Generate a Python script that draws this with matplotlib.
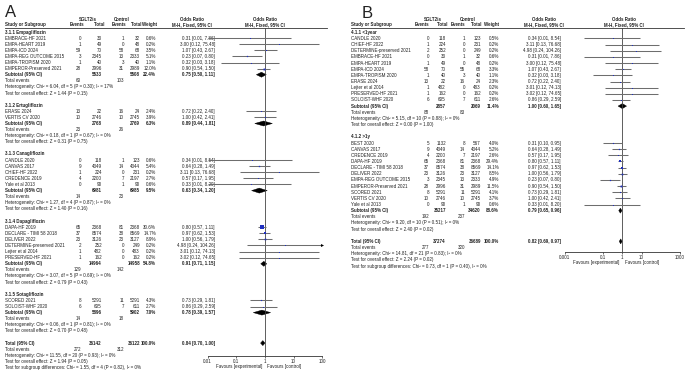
import matplotlib
matplotlib.use("Agg")
import matplotlib.pyplot as plt
from matplotlib.patches import Polygon
from matplotlib.ticker import NullLocator

plt.rcParams["font.family"] = ["Liberation Sans", "DejaVu Sans"]

W, H = 685, 374
FS = 3.25
TXT = "#222222"
SQ_BLUE = "#1f2fc0"
CI_GREY = "#6e6e6e"

# study rows: (name, events exp, total exp, events ctl, total ctl, weight %, OR, lo, hi)
A_EMPA = [
    ("EMBRACE-HF 2021", 0, 33, 1, 32, 0.6, 0.31, 0.01, 7.86),
    ("EMPA-HEART 2019", 1, 49, 0, 48, 0.2, 3.00, 0.12, 75.48),
    ("EMPA-ICD 2024", 59, 70, 58, 68, 3.5, 1.07, 0.43, 2.67),
    ("EMPA-REG OUTCOME 2015", 3, 2345, 13, 2333, 5.1, 0.23, 0.07, 0.80),
    ("EMPA-TROPISM 2020", 1, 40, 3, 40, 1.1, 0.32, 0.03, 3.18),
    ("EMPEROR-Preserved 2021", 28, 2996, 31, 2989, 12.0, 0.90, 0.54, 1.50),
]
A_ERTU = [
    ("ERASE 2024", 13, 22, 16, 24, 2.4, 0.72, 0.22, 2.40),
    ("VERTIS CV 2020", 10, 2746, 10, 2745, 3.9, 1.00, 0.42, 2.41),
]
A_CANA = [
    ("CANDLE 2020", 0, 118, 1, 123, 0.6, 0.34, 0.01, 8.54),
    ("CANVAS 2017", 9, 4349, 14, 4344, 5.4, 0.64, 0.28, 1.49),
    ("CHIEF-HF 2022", 1, 224, 0, 231, 0.2, 3.11, 0.13, 76.68),
    ("CREDENCE 2019", 4, 2200, 7, 2197, 2.7, 0.57, 0.17, 1.95),
    ("Yale et al 2013", 0, 90, 1, 90, 0.6, 0.33, 0.01, 8.20),
]
A_DAPA = [
    ("DAPA-HF 2019", 65, 2368, 81, 2368, 30.6, 0.80, 0.57, 1.11),
    ("DECLARE - TIMI 58 2018", 37, 8574, 38, 8569, 14.7, 0.97, 0.62, 1.53),
    ("DELIVER 2022", 23, 3126, 23, 3127, 8.9, 1.00, 0.56, 1.79),
    ("DETERMINE-preserved 2021", 2, 252, 0, 249, 0.2, 4.98, 0.24, 104.26),
    ("Lejter et al 2014", 1, 482, 0, 483, 0.2, 3.01, 0.12, 74.13),
    ("PRESERVED-HF 2021", 1, 162, 0, 162, 0.2, 3.02, 0.12, 74.65),
]
A_SOTA = [
    ("SCORED 2021", 8, 5291, 11, 5291, 4.3, 0.73, 0.29, 1.81),
    ("SOLOIST-WHF 2020", 6, 605, 7, 611, 2.7, 0.86, 0.29, 2.59),
]

# subtotals: (total exp, total ctl, weight %, OR, lo, hi, events exp, events ctl)
A_EMPA_SUB = (5533, 5508, 22.4, 0.75, 0.50, 1.11, 60, 103)
A_ERTU_SUB = (2768, 2769, 6.3, 0.89, 0.44, 1.81, 23, 26)
A_CANA_SUB = (6981, 6985, 9.5, 0.63, 0.34, 1.20, 14, 23)
A_DAPA_SUB = (14964, 14958, 54.8, 0.91, 0.71, 1.15, 129, 142)
A_SOTA_SUB = (5896, 5902, 7.0, 0.78, 0.39, 1.57, 14, 18)
A_TOTAL = (36142, 36122, 100.0, 0.84, 0.70, 1.00, 272, 312)

A_HET = [
    "Heterogeneity: Chi² = 6.04, df = 5 (P = 0.30); I² = 17%",
    "Heterogeneity: Chi² = 0.18, df = 1 (P = 0.67); I² = 0%",
    "Heterogeneity: Chi² = 1.27, df = 4 (P = 0.87); I² = 0%",
    "Heterogeneity: Chi² = 3.07, df = 5 (P = 0.69); I² = 0%",
    "Heterogeneity: Chi² = 0.06, df = 1 (P = 0.81); I² = 0%",
]
A_ZTEST = [
    "Test for overall effect: Z = 1.44 (P = 0.15)",
    "Test for overall effect: Z = 0.31 (P = 0.75)",
    "Test for overall effect: Z = 1.40 (P = 0.16)",
    "Test for overall effect: Z = 0.79 (P = 0.43)",
    "Test for overall effect: Z = 0.70 (P = 0.48)",
]
A_TITLES = ["3.1.1 Empagliflozin", "3.1.2 Ertugliflozin", "3.1.3 Canagliflozin",
            "3.1.4 Dapagliflozin", "3.1.5 Sotagliflozin"]
A_TOTAL_LINES = [
    "Heterogeneity: Chi² = 11.55, df = 20 (P = 0.93); I² = 0%",
    "Test for overall effect: Z = 1.94 (P = 0.05)",
    "Test for subgroup differences: Chi² = 1.55, df = 4 (P = 0.82), I² = 0%",
]

B_SHORT = [
    ("CANDLE 2020", 0, 118, 1, 123, 0.5, 0.34, 0.01, 8.54),
    ("CHIEF-HF 2022", 1, 224, 0, 231, 0.2, 3.11, 0.13, 76.68),
    ("DETERMINE-preserved 2021", 2, 252, 0, 249, 0.2, 4.98, 0.24, 104.26),
    ("EMBRACE-HF 2021", 0, 33, 1, 32, 0.6, 0.31, 0.01, 7.86),
    ("EMPA-HEART 2019", 1, 49, 0, 48, 0.2, 3.00, 0.12, 75.48),
    ("EMPA-ICD 2024", 58, 70, 55, 68, 3.3, 1.07, 0.43, 2.67),
    ("EMPA-TROPISM 2020", 1, 40, 3, 40, 1.1, 0.32, 0.03, 3.18),
    ("ERASE 2024", 13, 22, 16, 24, 2.3, 0.72, 0.22, 2.40),
    ("Lejter et al 2014", 1, 482, 0, 483, 0.2, 3.01, 0.12, 74.13),
    ("PRESERVED-HF 2021", 1, 162, 0, 162, 0.2, 3.02, 0.12, 74.65),
    ("SOLOIST-WHF 2020", 6, 605, 7, 611, 2.6, 0.86, 0.29, 2.59),
]
B_LONG = [
    ("BEST 2020", 5, 1132, 8, 567, 4.0, 0.31, 0.10, 0.95),
    ("CANVAS 2017", 9, 4349, 14, 4344, 5.2, 0.64, 0.28, 1.49),
    ("CREDENCE 2019", 4, 2200, 7, 2197, 2.6, 0.57, 0.17, 1.95),
    ("DAPA-HF 2019", 65, 2368, 81, 2368, 29.4, 0.80, 0.57, 1.11),
    ("DECLARE - TIMI 58 2018", 37, 8574, 38, 8569, 14.1, 0.97, 0.62, 1.53),
    ("DELIVER 2022", 23, 3126, 23, 3127, 8.5, 1.00, 0.56, 1.79),
    ("EMPA-REG OUTCOME 2015", 3, 2345, 13, 2333, 4.9, 0.23, 0.07, 0.80),
    ("EMPEROR-Preserved 2021", 28, 2996, 31, 2989, 11.5, 0.90, 0.54, 1.50),
    ("SCORED 2021", 8, 5291, 11, 5291, 4.1, 0.73, 0.29, 1.81),
    ("VERTIS CV 2020", 10, 2746, 10, 2745, 3.7, 1.00, 0.42, 2.41),
    ("Yale et al 2013", 0, 90, 1, 90, 0.6, 0.33, 0.01, 8.20),
]
B_SHORT_SUB = (2857, 2069, 11.4, 1.00, 0.60, 1.65, 88, 83)
B_LONG_SUB = (35217, 34620, 88.6, 0.79, 0.65, 0.96, 192, 237)
B_TOTAL = (37274, 36689, 100.0, 0.82, 0.69, 0.97, 277, 320)
B_HET = [
    "Heterogeneity: Chi² = 5.15, df = 10 (P = 0.88); I² = 0%",
    "Heterogeneity: Chi² = 9.20, df = 10 (P = 0.51); I² = 0%",
]
B_ZTEST = [
    "Test for overall effect: Z = 0.00 (P = 1.00)",
    "Test for overall effect: Z = 2.40 (P = 0.02)",
]
B_TITLES = ["4.1.1 <1year", "4.1.2 >1y"]
B_TOTAL_LINES = [
    "Heterogeneity: Chi² = 14.81, df = 21 (P = 0.83); I² = 0%",
    "Test for overall effect: Z = 2.24 (P = 0.02)",
    "Test for subgroup differences: Chi² = 0.73, df = 1 (P = 0.40), I² = 0%",
]

A_TICKS = [0.01, 0.1, 1, 10, 100]
A_TICKLABELS = ["0.01", "0.1", "1", "10", "100"]
B_TICKS = [0.001, 0.1, 1, 10, 1000]
B_TICKLABELS = ["0.001", "0.1", "1", "10", "1000"]


def or_text(o, lo, hi):
    return f"{o:.2f} [{lo:.2f}, {hi:.2f}]"


def txt(ax, x, y, s, ha="left", bold=False, **kw):
    ax.text(x, y, s, ha=ha, va="center", fontsize=FS, color=TXT,
            fontweight="bold" if bold else "normal", **kw)


def diamond(fax, y, o, lo, hi, h=2.5):
    fax.add_patch(Polygon([(lo, y), (o, y - h), (hi, y), (o, y + h)],
                          closed=True, fc="black", ec="black", lw=0.3, clip_on=False))


def study_mark(fax, y, w, o, lo, hi):
    xmin, xmax = fax.get_xlim()
    a, b = max(lo, xmin), min(hi, xmax)
    fax.plot([a, b], [y, y], color=CI_GREY, lw=0.75, solid_capstyle="butt")
    if hi > xmax:
        fax.plot([xmax], [y], marker=">", ms=2.2, color="black", mew=0, clip_on=False)
    if lo < xmin:
        fax.plot([xmin], [y], marker="<", ms=2.2, color="black", mew=0, clip_on=False)
    side = max(1.0, 0.55 * w ** 0.5)
    fax.plot([o], [y], marker="s", ms=side * 0.72, color=SQ_BLUE, mew=0)


def forest_axes(fig, x0, x1, ytop, ybot, xlim, ticks, labels, fav_y):
    fax = fig.add_axes([x0 / W, 1 - ybot / H, (x1 - x0) / W, (ybot - ytop) / H])
    fax.set_xscale("log")
    fax.set_xlim(xlim)
    fax.set_ylim(ybot, ytop)
    fax.patch.set_alpha(0)
    for sp in ("top", "left", "right"):
        fax.spines[sp].set_visible(False)
    fax.spines["bottom"].set_linewidth(0.6)
    fax.spines["bottom"].set_color("#333333")
    fax.set_yticks([])
    fax.set_xticks(ticks)
    fax.set_xticklabels(labels)
    fax.xaxis.set_minor_locator(NullLocator())
    fax.tick_params(axis="x", length=1.6, width=0.5, pad=0.6, labelsize=FS,
                    colors="#333333", labelcolor=TXT)
    fax.axvline(1, color="#444444", lw=0.6)
    fax.annotate("Favours [experimental]", xy=(1, 0), xycoords=("data", "axes fraction"),
                 xytext=(-2.2, -fav_y), textcoords="offset points", ha="right", va="center",
                 fontsize=FS, color=TXT)
    fax.annotate("Favours [control]", xy=(1, 0), xycoords=("data", "axes fraction"),
                 xytext=(1.6, -fav_y), textcoords="offset points", ha="left", va="center",
                 fontsize=FS, color=TXT)
    return fax


def draw_panel(bg, fax, col, titles, groups, subs, hets, ztests, total, total_lines, y0, step):
    y = y0
    for title, rows, sub, het, zt in zip(titles, groups, subs, hets, ztests):
        txt(bg, col["name"], y, title, bold=True)
        y += step
        for name, e1, n1, e2, n2, w, o, lo, hi in rows:
            txt(bg, col["name"], y, name)
            txt(bg, col["e1"], y, str(e1), ha="right")
            txt(bg, col["n1"], y, str(n1), ha="right")
            txt(bg, col["e2"], y, str(e2), ha="right")
            txt(bg, col["n2"], y, str(n2), ha="right")
            txt(bg, col["w"], y, f"{w:.1f}%", ha="right")
            txt(bg, col["or"], y, or_text(o, lo, hi), ha="right")
            study_mark(fax, y, w, o, lo, hi)
            y += step
        n1, n2, w, o, lo, hi, e1, e2 = sub
        txt(bg, col["name"], y, "Subtotal (95% CI)", bold=True)
        txt(bg, col["n1"], y, str(n1), ha="right", bold=True)
        txt(bg, col["n2"], y, str(n2), ha="right", bold=True)
        txt(bg, col["w"], y, f"{w:.1f}%", ha="right", bold=True)
        txt(bg, col["or"], y, or_text(o, lo, hi), ha="right", bold=True)
        diamond(fax, y, o, lo, hi)
        y += step
        txt(bg, col["name"], y, "Total events")
        txt(bg, col["e1"], y, str(e1), ha="right")
        txt(bg, col["e2"], y, str(e2), ha="right")
        y += step
        txt(bg, col["name"], y, het)
        y += step
        txt(bg, col["name"], y, zt)
        y += 2 * step
    n1, n2, w, o, lo, hi, e1, e2 = total
    txt(bg, col["name"], y, "Total (95% CI)", bold=True)
    txt(bg, col["n1"], y, str(n1), ha="right", bold=True)
    txt(bg, col["n2"], y, str(n2), ha="right", bold=True)
    txt(bg, col["w"], y, f"{w:.1f}%", ha="right", bold=True)
    txt(bg, col["or"], y, or_text(o, lo, hi), ha="right", bold=True)
    diamond(fax, y, o, lo, hi)
    y += step
    txt(bg, col["name"], y, "Total events")
    txt(bg, col["e1"], y, str(e1), ha="right")
    txt(bg, col["e2"], y, str(e2), ha="right")
    for line in total_lines:
        y += step
        txt(bg, col["name"], y, line)


def headers(bg, col, hx, line_x1):
    txt(bg, hx["exp"], 19.5, "SGLT2is", ha="center", bold=True)
    txt(bg, hx["ctl"], 19.5, "Control", ha="center", bold=True)
    txt(bg, hx["or1"], 19.5, "Odds Ratio", ha="center", bold=True)
    txt(bg, hx["or2"], 19.5, "Odds Ratio", ha="center", bold=True)
    txt(bg, col["name"], 24.8, "Study or Subgroup", bold=True)
    txt(bg, hx["e1"], 24.8, "Events", ha="center", bold=True)
    txt(bg, hx["n1"], 24.8, "Total", ha="center", bold=True)
    txt(bg, hx["e2"], 24.8, "Events", ha="center", bold=True)
    txt(bg, hx["n2"], 24.8, "Total", ha="center", bold=True)
    txt(bg, hx["w"], 24.8, "Weight", ha="center", bold=True)
    txt(bg, hx["or1"], 24.8, "M-H, Fixed, 95% CI", ha="center", bold=True)
    txt(bg, hx["or2"], 24.8, "M-H, Fixed, 95% CI", ha="center", bold=True)
    bg.plot([col["name"], line_x1], [27.8, 27.8], color="#333333", lw=0.6)


fig = plt.figure(figsize=(W / 100, H / 100), dpi=100)
bg = fig.add_axes([0, 0, 1, 1])
bg.set_xlim(0, W)
bg.set_ylim(H, 0)
bg.axis("off")

# ---- panel A
colA = dict(name=5, e1=81, n1=102, e2=124, n2=140, w=156, **{"or": 215})
hxA = dict(exp=88, ctl=122, or1=192, or2=265, e1=77, n1=99, e2=119, n2=136, w=150)
bg.text(5, 12, "A", fontsize=12, va="center", ha="left", color=TXT)
headers(bg, colA, hxA, 327)
faxA = forest_axes(fig, 207.7, 322.3, 27.8, 356, (0.01, 100), A_TICKS, A_TICKLABELS, 7.6)
draw_panel(bg, faxA, colA, A_TITLES, [A_EMPA, A_ERTU, A_CANA, A_DAPA, A_SOTA],
           [A_EMPA_SUB, A_ERTU_SUB, A_CANA_SUB, A_DAPA_SUB, A_SOTA_SUB],
           A_HET, A_ZTEST, A_TOTAL, A_TOTAL_LINES, 32.0, 6.1)

# ---- panel B
colB = dict(name=351, e1=429, n1=446, e2=465, n2=481, w=499, **{"or": 561})
hxB = dict(exp=433, ctl=468, or1=544, or2=624, e1=422, n1=442, e2=458, n2=476, w=492)
bg.text(362, 13, "B", fontsize=12, va="center", ha="left", color=TXT)
headers(bg, colB, hxB, 684)
faxB = forest_axes(fig, 564.7, 680, 27.8, 252, (0.001, 1000), B_TICKS, B_TICKLABELS, 7.8)
draw_panel(bg, faxB, colB, B_TITLES, [B_SHORT, B_LONG], [B_SHORT_SUB, B_LONG_SUB],
           B_HET, B_ZTEST, B_TOTAL, B_TOTAL_LINES, 32.3, 6.15)

fig.savefig("out.png", dpi=100, facecolor="white")
